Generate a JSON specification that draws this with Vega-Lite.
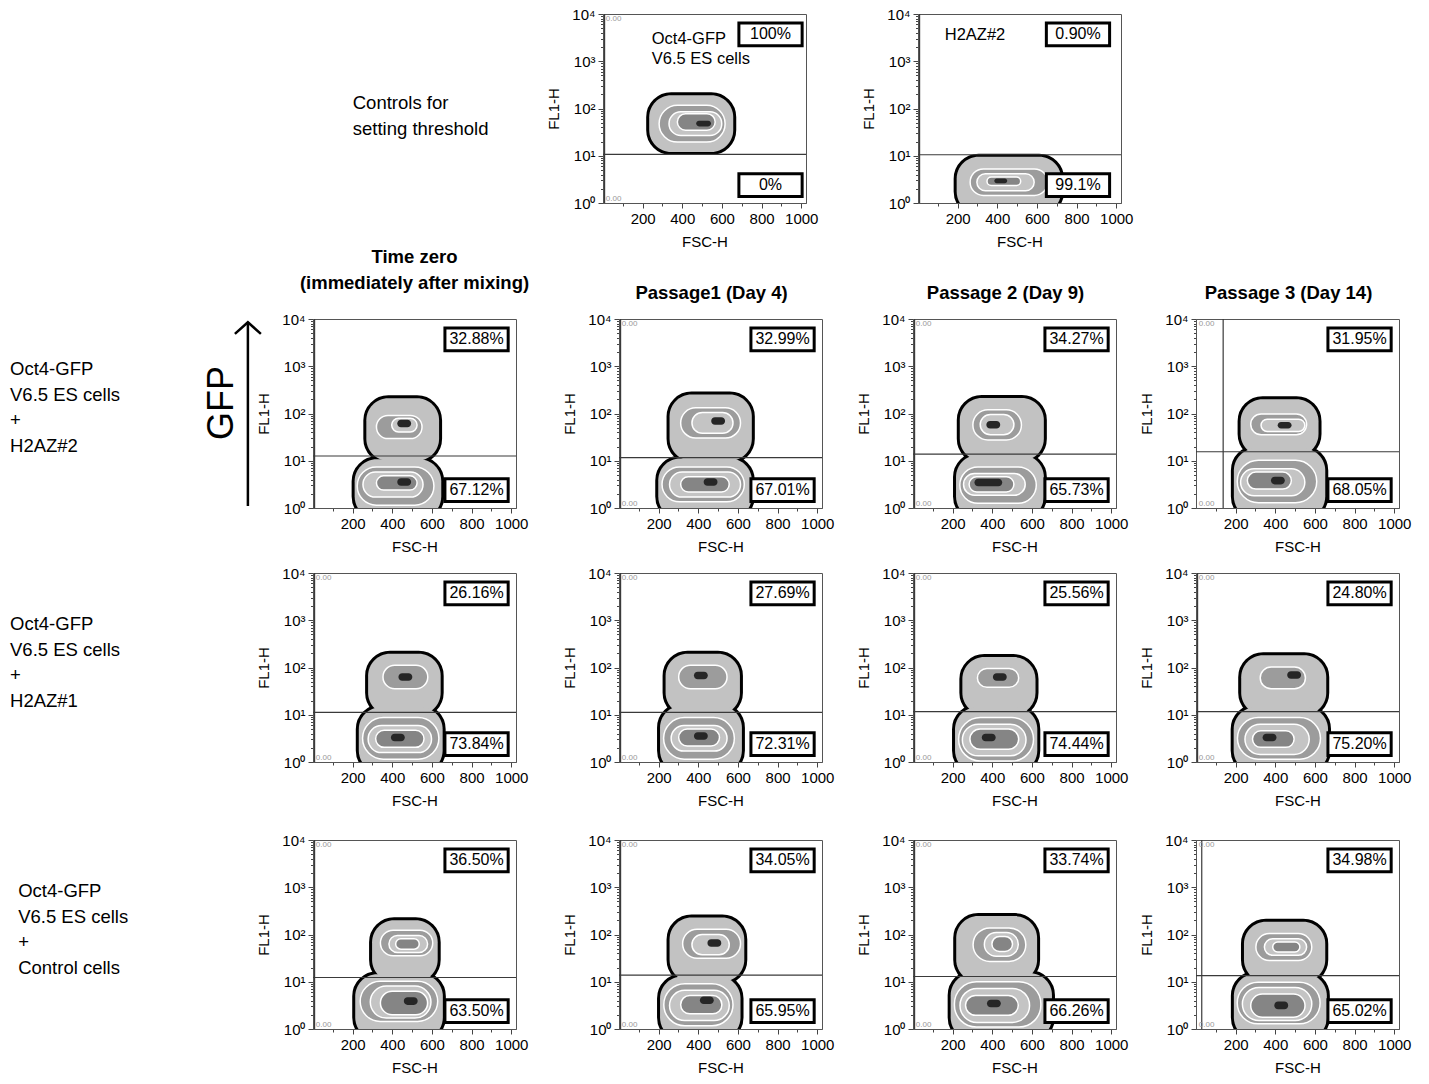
{
"$schema":"https://vega.github.io/schema/vega-lite/v6.json",
"background":"white",
"padding":{"left":0,"top":6,"right":0,"bottom":0},
"spacing":-3,
"datasets":{
"contours":[
{"panel":"c1","level":1,"fsc":233,"fsc2":657,"fl1":12.0,"fl1b":191},
{"panel":"c1","level":2,"fsc":283,"fsc2":616,"fl1":19.5,"fl1b":117},
{"panel":"c1","level":3,"fsc":333,"fsc2":599,"fl1":26.9,"fl1b":85.1},
{"panel":"c1","level":4,"fsc":375,"fsc2":566,"fl1":34.7,"fl1b":77.6},
{"panel":"c1","level":5,"fsc":470,"fsc2":545,"fl1":41.7,"fl1b":55.0},
{"panel":"c2","level":1,"fsc":195,"fsc2":722,"fl1":0.6,"fl1b":9.55},
{"panel":"c2","level":2,"fsc":263,"fsc2":654,"fl1":1.45,"fl1b":5.25},
{"panel":"c2","level":3,"fsc":297,"fsc2":586,"fl1":1.82,"fl1b":4.17},
{"panel":"c2","level":4,"fsc":348,"fsc2":518,"fl1":2.34,"fl1b":3.55},
{"panel":"c2","level":5,"fsc":385,"fsc2":450,"fl1":2.63,"fl1b":3.31},
{"panel":"r1c1","level":1,"fsc":269,"fsc2":636,"fl1":10,"fl1b":209},
{"panel":"r1c1","level":1,"fsc":210,"fsc2":647,"fl1":0.6,"fl1b":10.7},
{"panel":"r1c1","level":2,"fsc":320,"fsc2":550,"fl1":29.5,"fl1b":91.2},
{"panel":"r1c1","level":2,"fsc":223,"fsc2":610,"fl1":1.15,"fl1b":7.41},
{"panel":"r1c1","level":3,"fsc":397,"fsc2":525,"fl1":40.7,"fl1b":79.4},
{"panel":"r1c1","level":3,"fsc":252,"fsc2":555,"fl1":1.70,"fl1b":5.75},
{"panel":"r1c1","level":4,"fsc":320,"fsc2":525,"fl1":2.40,"fl1b":4.79},
{"panel":"r1c1","level":5,"fsc":425,"fsc2":495,"fl1":51.3,"fl1b":74.1},
{"panel":"r1c1","level":5,"fsc":425,"fsc2":495,"fl1":2.95,"fl1b":4.27},
{"panel":"r1c2","level":1,"fsc":255,"fsc2":670,"fl1":10,"fl1b":251},
{"panel":"r1c2","level":1,"fsc":198,"fsc2":670,"fl1":0.6,"fl1b":11.2},
{"panel":"r1c2","level":2,"fsc":311,"fsc2":613,"fl1":30.2,"fl1b":132},
{"panel":"r1c2","level":2,"fsc":217,"fsc2":632,"fl1":1.35,"fl1b":7.41},
{"panel":"r1c2","level":3,"fsc":368,"fsc2":575,"fl1":38.0,"fl1b":105},
{"panel":"r1c2","level":3,"fsc":255,"fsc2":613,"fl1":1.70,"fl1b":5.75},
{"panel":"r1c2","level":4,"fsc":311,"fsc2":556,"fl1":2.19,"fl1b":4.57},
{"panel":"r1c2","level":5,"fsc":465,"fsc2":535,"fl1":57.5,"fl1b":83.2},
{"panel":"r1c2","level":5,"fsc":427,"fsc2":497,"fl1":2.95,"fl1b":4.27},
{"panel":"r1c3","level":1,"fsc":236,"fsc2":660,"fl1":10,"fl1b":214},
{"panel":"r1c3","level":1,"fsc":217,"fsc2":660,"fl1":0.6,"fl1b":13.2},
{"panel":"r1c3","level":2,"fsc":302,"fsc2":547,"fl1":27.5,"fl1b":120},
{"panel":"r1c3","level":2,"fsc":236,"fsc2":622,"fl1":1.26,"fl1b":7.41},
{"panel":"r1c3","level":3,"fsc":339,"fsc2":509,"fl1":35.5,"fl1b":95.5},
{"panel":"r1c3","level":3,"fsc":255,"fsc2":566,"fl1":1.86,"fl1b":5.37},
{"panel":"r1c3","level":4,"fsc":283,"fsc2":509,"fl1":2.19,"fl1b":4.57},
{"panel":"r1c3","level":5,"fsc":370,"fsc2":440,"fl1":47.9,"fl1b":69.2},
{"panel":"r1c3","level":5,"fsc":310,"fsc2":450,"fl1":2.88,"fl1b":4.17},
{"panel":"r1c4","level":1,"fsc":225,"fsc2":618,"fl1":12.6,"fl1b":200},
{"panel":"r1c4","level":1,"fsc":191,"fsc2":652,"fl1":0.6,"fl1b":18.2},
{"panel":"r1c4","level":2,"fsc":276,"fsc2":558,"fl1":35.5,"fl1b":97.7},
{"panel":"r1c4","level":2,"fsc":208,"fsc2":609,"fl1":1.29,"fl1b":10.2},
{"panel":"r1c4","level":3,"fsc":328,"fsc2":549,"fl1":41.7,"fl1b":75.9},
{"panel":"r1c4","level":3,"fsc":225,"fsc2":549,"fl1":1.82,"fl1b":6.76},
{"panel":"r1c4","level":4,"fsc":259,"fsc2":481,"fl1":2.51,"fl1b":5.75},
{"panel":"r1c4","level":5,"fsc":412,"fsc2":482,"fl1":47.9,"fl1b":66.1},
{"panel":"r1c4","level":5,"fsc":378,"fsc2":448,"fl1":3.16,"fl1b":4.57},
{"panel":"r2c1","level":1,"fsc":278,"fsc2":644,"fl1":10,"fl1b":195},
{"panel":"r2c1","level":1,"fsc":231,"fsc2":654,"fl1":0.6,"fl1b":14.5},
{"panel":"r2c1","level":2,"fsc":353,"fsc2":579,"fl1":35.5,"fl1b":112},
{"panel":"r2c1","level":2,"fsc":250,"fsc2":635,"fl1":1.15,"fl1b":8.71},
{"panel":"r2c1","level":3,"fsc":278,"fsc2":598,"fl1":1.58,"fl1b":5.89},
{"panel":"r2c1","level":4,"fsc":316,"fsc2":560,"fl1":2.04,"fl1b":4.68},
{"panel":"r2c1","level":5,"fsc":431,"fsc2":501,"fl1":52.5,"fl1b":75.9},
{"panel":"r2c1","level":5,"fsc":393,"fsc2":463,"fl1":2.75,"fl1b":3.98},
{"panel":"r2c2","level":1,"fsc":235,"fsc2":610,"fl1":10,"fl1b":195},
{"panel":"r2c2","level":1,"fsc":207,"fsc2":620,"fl1":0.6,"fl1b":15.5},
{"panel":"r2c2","level":2,"fsc":301,"fsc2":545,"fl1":35.5,"fl1b":112},
{"panel":"r2c2","level":2,"fsc":225,"fsc2":582,"fl1":1.15,"fl1b":8.71},
{"panel":"r2c2","level":3,"fsc":263,"fsc2":545,"fl1":1.70,"fl1b":5.89},
{"panel":"r2c2","level":4,"fsc":301,"fsc2":507,"fl1":2.19,"fl1b":5.01},
{"panel":"r2c2","level":5,"fsc":378,"fsc2":448,"fl1":56.2,"fl1b":81.3},
{"panel":"r2c2","level":5,"fsc":378,"fsc2":448,"fl1":2.95,"fl1b":4.27},
{"panel":"r2c3","level":1,"fsc":249,"fsc2":618,"fl1":10,"fl1b":166},
{"panel":"r2c3","level":1,"fsc":212,"fsc2":627,"fl1":0.6,"fl1b":14.5},
{"panel":"r2c3","level":2,"fsc":325,"fsc2":533,"fl1":38.0,"fl1b":95.5},
{"panel":"r2c3","level":2,"fsc":230,"fsc2":608,"fl1":1.05,"fl1b":8.71},
{"panel":"r2c3","level":3,"fsc":249,"fsc2":570,"fl1":1.35,"fl1b":6.31},
{"panel":"r2c3","level":4,"fsc":287,"fsc2":533,"fl1":1.86,"fl1b":5.01},
{"panel":"r2c3","level":5,"fsc":403,"fsc2":473,"fl1":52.5,"fl1b":75.9},
{"panel":"r2c3","level":5,"fsc":347,"fsc2":417,"fl1":2.75,"fl1b":3.98},
{"panel":"r2c4","level":1,"fsc":228,"fsc2":657,"fl1":10,"fl1b":182},
{"panel":"r2c4","level":1,"fsc":190,"fsc2":666,"fl1":0.6,"fl1b":14.5},
{"panel":"r2c4","level":2,"fsc":324,"fsc2":552,"fl1":35.5,"fl1b":102},
{"panel":"r2c4","level":2,"fsc":209,"fsc2":628,"fl1":1.15,"fl1b":8.71},
{"panel":"r2c4","level":3,"fsc":247,"fsc2":571,"fl1":1.45,"fl1b":6.31},
{"panel":"r2c4","level":4,"fsc":285,"fsc2":495,"fl1":2.04,"fl1b":4.57},
{"panel":"r2c4","level":5,"fsc":460,"fsc2":530,"fl1":57.5,"fl1b":83.2},
{"panel":"r2c4","level":5,"fsc":336,"fsc2":406,"fl1":2.75,"fl1b":3.98},
{"panel":"r3c1","level":1,"fsc":298,"fsc2":629,"fl1":10,"fl1b":200},
{"panel":"r3c1","level":1,"fsc":213,"fsc2":655,"fl1":0.6,"fl1b":14.5},
{"panel":"r3c1","level":2,"fsc":340,"fsc2":604,"fl1":35.5,"fl1b":123},
{"panel":"r3c1","level":2,"fsc":238,"fsc2":629,"fl1":1.45,"fl1b":10.2},
{"panel":"r3c1","level":3,"fsc":383,"fsc2":578,"fl1":41.7,"fl1b":95.5},
{"panel":"r3c1","level":3,"fsc":289,"fsc2":595,"fl1":1.70,"fl1b":8.13},
{"panel":"r3c1","level":4,"fsc":417,"fsc2":536,"fl1":49.0,"fl1b":81.3},
{"panel":"r3c1","level":4,"fsc":340,"fsc2":578,"fl1":2.0,"fl1b":6.31},
{"panel":"r3c1","level":5,"fsc":458,"fsc2":528,"fl1":3.24,"fl1b":4.68},
{"panel":"r3c2","level":1,"fsc":255,"fsc2":632,"fl1":10,"fl1b":229},
{"panel":"r3c2","level":1,"fsc":207,"fsc2":613,"fl1":0.6,"fl1b":12.9},
{"panel":"r3c2","level":2,"fsc":321,"fsc2":613,"fl1":31.6,"fl1b":129},
{"panel":"r3c2","level":2,"fsc":226,"fsc2":575,"fl1":1.17,"fl1b":9.12},
{"panel":"r3c2","level":3,"fsc":368,"fsc2":556,"fl1":37.2,"fl1b":100},
{"panel":"r3c2","level":3,"fsc":255,"fsc2":556,"fl1":1.51,"fl1b":6.61},
{"panel":"r3c2","level":4,"fsc":311,"fsc2":519,"fl1":2.09,"fl1b":5.13},
{"panel":"r3c2","level":5,"fsc":446,"fsc2":516,"fl1":55.0,"fl1b":79.4},
{"panel":"r3c2","level":5,"fsc":408,"fsc2":478,"fl1":3.39,"fl1b":4.90},
{"panel":"r3c3","level":1,"fsc":218,"fsc2":626,"fl1":10,"fl1b":245},
{"panel":"r3c3","level":1,"fsc":190,"fsc2":701,"fl1":0.6,"fl1b":15.1},
{"panel":"r3c3","level":2,"fsc":303,"fsc2":569,"fl1":26.9,"fl1b":138},
{"panel":"r3c3","level":2,"fsc":209,"fsc2":645,"fl1":1.10,"fl1b":10},
{"panel":"r3c3","level":3,"fsc":360,"fsc2":531,"fl1":34.7,"fl1b":110},
{"panel":"r3c3","level":3,"fsc":237,"fsc2":588,"fl1":1.38,"fl1b":7.24},
{"panel":"r3c3","level":4,"fsc":398,"fsc2":502,"fl1":43.7,"fl1b":91.2},
{"panel":"r3c3","level":4,"fsc":265,"fsc2":531,"fl1":1.95,"fl1b":5.13},
{"panel":"r3c3","level":5,"fsc":373,"fsc2":443,"fl1":2.88,"fl1b":4.17},
{"panel":"r3c4","level":1,"fsc":242,"fsc2":652,"fl1":10,"fl1b":186},
{"panel":"r3c4","level":1,"fsc":191,"fsc2":660,"fl1":0.6,"fl1b":14.8},
{"panel":"r3c4","level":2,"fsc":302,"fsc2":584,"fl1":28.2,"fl1b":105},
{"panel":"r3c4","level":2,"fsc":208,"fsc2":626,"fl1":1.29,"fl1b":9.77},
{"panel":"r3c4","level":3,"fsc":345,"fsc2":558,"fl1":36.3,"fl1b":81.3},
{"panel":"r3c4","level":3,"fsc":234,"fsc2":584,"fl1":1.51,"fl1b":7.59},
{"panel":"r3c4","level":4,"fsc":387,"fsc2":524,"fl1":42.7,"fl1b":69.2},
{"panel":"r3c4","level":4,"fsc":276,"fsc2":550,"fl1":1.78,"fl1b":5.50},
{"panel":"r3c4","level":5,"fsc":395,"fsc2":465,"fl1":2.63,"fl1b":3.80}
],
"gates":[
{"panel":"c1","fsc":0,"fsc2":1024,"fl1":10.7,"fl1b":10.7},{"panel":"c1","fsc":8,"fsc2":8,"fl1":1,"fl1b":10000},
{"panel":"c2","fsc":0,"fsc2":1024,"fl1":10.5,"fl1b":10.5},{"panel":"c2","fsc":8,"fsc2":8,"fl1":1,"fl1b":10000},
{"panel":"r1c1","fsc":0,"fsc2":1024,"fl1":12.6,"fl1b":12.6},{"panel":"r1c1","fsc":8,"fsc2":8,"fl1":1,"fl1b":10000},
{"panel":"r1c2","fsc":0,"fsc2":1024,"fl1":11.7,"fl1b":11.7},{"panel":"r1c2","fsc":8,"fsc2":8,"fl1":1,"fl1b":10000},
{"panel":"r1c3","fsc":0,"fsc2":1024,"fl1":13.8,"fl1b":13.8},{"panel":"r1c3","fsc":8,"fsc2":8,"fl1":1,"fl1b":10000},
{"panel":"r1c4","fsc":0,"fsc2":1024,"fl1":15.5,"fl1b":15.5},{"panel":"r1c4","fsc":137,"fsc2":137,"fl1":1,"fl1b":10000},
{"panel":"r2c1","fsc":0,"fsc2":1024,"fl1":11.2,"fl1b":11.2},{"panel":"r2c1","fsc":8,"fsc2":8,"fl1":1,"fl1b":10000},
{"panel":"r2c2","fsc":0,"fsc2":1024,"fl1":11.2,"fl1b":11.2},{"panel":"r2c2","fsc":8,"fsc2":8,"fl1":1,"fl1b":10000},
{"panel":"r2c3","fsc":0,"fsc2":1024,"fl1":11.7,"fl1b":11.7},{"panel":"r2c3","fsc":8,"fsc2":8,"fl1":1,"fl1b":10000},
{"panel":"r2c4","fsc":0,"fsc2":1024,"fl1":11.7,"fl1b":11.7},{"panel":"r2c4","fsc":8,"fsc2":8,"fl1":1,"fl1b":10000},
{"panel":"r3c1","fsc":0,"fsc2":1024,"fl1":12.3,"fl1b":12.3},{"panel":"r3c1","fsc":8,"fsc2":8,"fl1":1,"fl1b":10000},
{"panel":"r3c2","fsc":0,"fsc2":1024,"fl1":13.8,"fl1b":13.8},{"panel":"r3c2","fsc":8,"fsc2":8,"fl1":1,"fl1b":10000},
{"panel":"r3c3","fsc":0,"fsc2":1024,"fl1":12.9,"fl1b":12.9},{"panel":"r3c3","fsc":8,"fsc2":8,"fl1":1,"fl1b":10000},
{"panel":"r3c4","fsc":0,"fsc2":1024,"fl1":13.5,"fl1b":13.5},{"panel":"r3c4","fsc":29,"fsc2":29,"fl1":1,"fl1b":10000}
],
"stats":[
{"panel":"c1","fsc":845,"fl1":3700,"label":"100%"},{"panel":"c1","fsc":845,"fl1":2.4,"label":"0%"},
{"panel":"c2","fsc":807,"fl1":3700,"label":"0.90%"},{"panel":"c2","fsc":807,"fl1":2.4,"label":"99.1%"},
{"panel":"r1c1","fsc":825,"fl1":3700,"label":"32.88%"},{"panel":"r1c1","fsc":825,"fl1":2.4,"label":"67.12%"},
{"panel":"r1c2","fsc":825,"fl1":3700,"label":"32.99%"},{"panel":"r1c2","fsc":825,"fl1":2.4,"label":"67.01%"},
{"panel":"r1c3","fsc":825,"fl1":3700,"label":"34.27%"},{"panel":"r1c3","fsc":825,"fl1":2.4,"label":"65.73%"},
{"panel":"r1c4","fsc":825,"fl1":3700,"label":"31.95%"},{"panel":"r1c4","fsc":825,"fl1":2.4,"label":"68.05%"},
{"panel":"r2c1","fsc":825,"fl1":3700,"label":"26.16%"},{"panel":"r2c1","fsc":825,"fl1":2.4,"label":"73.84%"},
{"panel":"r2c2","fsc":825,"fl1":3700,"label":"27.69%"},{"panel":"r2c2","fsc":825,"fl1":2.4,"label":"72.31%"},
{"panel":"r2c3","fsc":825,"fl1":3700,"label":"25.56%"},{"panel":"r2c3","fsc":825,"fl1":2.4,"label":"74.44%"},
{"panel":"r2c4","fsc":825,"fl1":3700,"label":"24.80%"},{"panel":"r2c4","fsc":825,"fl1":2.4,"label":"75.20%"},
{"panel":"r3c1","fsc":825,"fl1":3700,"label":"36.50%"},{"panel":"r3c1","fsc":825,"fl1":2.4,"label":"63.50%"},
{"panel":"r3c2","fsc":825,"fl1":3700,"label":"34.05%"},{"panel":"r3c2","fsc":825,"fl1":2.4,"label":"65.95%"},
{"panel":"r3c3","fsc":825,"fl1":3700,"label":"33.74%"},{"panel":"r3c3","fsc":825,"fl1":2.4,"label":"66.26%"},
{"panel":"r3c4","fsc":825,"fl1":3700,"label":"34.98%"},{"panel":"r3c4","fsc":825,"fl1":2.4,"label":"65.02%"}
],
"notes":[
{"panel":"c1","kind":"note","fsc":246,"fl1":2950,"label":"Oct4-GFP\nV6.5 ES cells"},
{"panel":"c2","kind":"note","fsc":135,"fl1":3550,"label":"H2AZ#2"},
{"panel":"c1","kind":"corner","fsc":14,"fl1":8000,"label":"0.00"},{"panel":"c1","kind":"corner","fsc":14,"fl1":1.22,"label":"0.00"},
{"panel":"r1c2","kind":"corner","fsc":14,"fl1":8000,"label":"0.00"},{"panel":"r1c2","kind":"corner","fsc":14,"fl1":1.22,"label":"0.00"},
{"panel":"r1c3","kind":"corner","fsc":14,"fl1":8000,"label":"0.00"},{"panel":"r1c3","kind":"corner","fsc":14,"fl1":1.22,"label":"0.00"},
{"panel":"r1c4","kind":"corner","fsc":14,"fl1":8000,"label":"0.00"},{"panel":"r1c4","kind":"corner","fsc":14,"fl1":1.22,"label":"0.00"},
{"panel":"r2c1","kind":"corner","fsc":14,"fl1":8000,"label":"0.00"},{"panel":"r2c1","kind":"corner","fsc":14,"fl1":1.22,"label":"0.00"},
{"panel":"r2c2","kind":"corner","fsc":14,"fl1":8000,"label":"0.00"},{"panel":"r2c2","kind":"corner","fsc":14,"fl1":1.22,"label":"0.00"},
{"panel":"r2c3","kind":"corner","fsc":14,"fl1":8000,"label":"0.00"},{"panel":"r2c3","kind":"corner","fsc":14,"fl1":1.22,"label":"0.00"},
{"panel":"r2c4","kind":"corner","fsc":14,"fl1":8000,"label":"0.00"},{"panel":"r2c4","kind":"corner","fsc":14,"fl1":1.22,"label":"0.00"},
{"panel":"r3c1","kind":"corner","fsc":14,"fl1":8000,"label":"0.00"},{"panel":"r3c1","kind":"corner","fsc":14,"fl1":1.22,"label":"0.00"},
{"panel":"r3c2","kind":"corner","fsc":14,"fl1":8000,"label":"0.00"},{"panel":"r3c2","kind":"corner","fsc":14,"fl1":1.22,"label":"0.00"},
{"panel":"r3c3","kind":"corner","fsc":14,"fl1":8000,"label":"0.00"},{"panel":"r3c3","kind":"corner","fsc":14,"fl1":1.22,"label":"0.00"},
{"panel":"r3c4","kind":"corner","fsc":14,"fl1":8000,"label":"0.00"},{"panel":"r3c4","kind":"corner","fsc":14,"fl1":1.22,"label":"0.00"}
]
},
"vconcat":[
{"bounds":"flush","spacing":0,"hconcat":[
 {"width":603,"height":189,"data":{"values":[{"label":"Controls for\nsetting threshold"}]},"mark":{"type":"text","align":"left","baseline":"middle","fontSize":18.5,"lineHeight":25.5,"lineBreak":"\n"},"encoding":{"text":{"field":"label"},"x":{"datum":0.585,"type":"quantitative","scale":{"domain":[0,1],"nice":false,"zero":false},"axis":null},"y":{"datum":0.529,"type":"quantitative","scale":{"domain":[0,1],"nice":false,"zero":false},"axis":null}}},
 {"width":203,"height":189,"view":{"stroke":"#555"},"encoding":{"x":{"field":"fsc","type":"quantitative","scale":{"domain":[0,1024],"nice":false,"zero":false},"axis":{"title":"FSC-H","values":[100,200,300,400,500,600,700,800,900,1000],"format":"d","labelExpr":"datum.value % 200 == 0 ? datum.label : ''","tickSize":{"condition":{"test":"datum.value % 200 == 0","value":5},"value":3},"labelPadding":3,"titlePadding":8,"labelOverlap":false,"labelFlush":false}},"y":{"field":"fl1","type":"quantitative","scale":{"type":"log","domain":[1,10000],"nice":false},"axis":{"title":"FL1-H","values":[1,2,3,4,5,6,7,8,9,10,20,30,40,50,60,70,80,90,100,200,300,400,500,600,700,800,900,1000,2000,3000,4000,5000,6000,7000,8000,9000,10000],"labelExpr":"datum.value == 1 ? '10⁰' : datum.value == 10 ? '10¹' : datum.value == 100 ? '10²' : datum.value == 1000 ? '10³' : datum.value == 10000 ? '10⁴' : ''","tickSize":{"condition":{"test":"indexof([1,10,100,1000,10000], datum.value) >= 0","value":5},"value":2.5},"labelPadding":3,"titlePadding":10,"labelOverlap":false,"labelFlush":false}}},"layer":[
  {"data":{"name":"contours"},"transform":[{"filter":"datum.panel == 'c1' && datum.level == 1"}],"mark":{"type":"rect","clip":true,"cornerRadius":22,"fill":"#000","stroke":"#000","strokeWidth":6},"encoding":{"x2":{"field":"fsc2"},"y2":{"field":"fl1b"}}},
  {"data":{"name":"contours"},"transform":[{"filter":"datum.panel == 'c1'"}],"mark":{"type":"rect","clip":true,"cornerRadius":22,"strokeWidth":1.5},"encoding":{"x2":{"field":"fsc2"},"y2":{"field":"fl1b"},"fill":{"field":"level","type":"ordinal","scale":{"domain":[1,2,3,4,5],"range":["#c2c2c2","#9c9c9c","#c4c4c4","#858585","#262626"]},"legend":null},"stroke":{"field":"level","type":"ordinal","scale":{"domain":[1,2,3,4,5],"range":["transparent","#ffffff","#ffffff","#ffffff","transparent"]},"legend":null}}},
  {"data":{"name":"gates"},"transform":[{"filter":"datum.panel == 'c1'"}],"mark":{"type":"rule","clip":true,"color":"#3a3a3a","strokeWidth":1.2},"encoding":{"x2":{"field":"fsc2"},"y2":{"field":"fl1b"}}},
  {"data":{"name":"notes"},"transform":[{"filter":"datum.panel == 'c1'"}],"mark":{"type":"text","align":"left","baseline":"middle","lineBreak":"\n","lineHeight":20},"encoding":{"text":{"field":"label"},"size":{"field":"kind","type":"nominal","scale":{"domain":["note","corner"],"range":[16.5,8]},"legend":null},"color":{"field":"kind","type":"nominal","scale":{"domain":["note","corner"],"range":["#000000","#999999"]},"legend":null}}},
  {"data":{"name":"stats"},"transform":[{"filter":"datum.panel == 'c1'"}],"mark":{"type":"point","shape":"M-1,-0.36L1,-0.36L1,0.36L-1,0.36Z","size":4000,"filled":true,"fill":"#fff","stroke":"#000","strokeWidth":3,"opacity":1}},
  {"data":{"name":"stats"},"transform":[{"filter":"datum.panel == 'c1'"}],"mark":{"type":"text","fontSize":16},"encoding":{"text":{"field":"label"}}}
 ]},
 {"width":112,"height":189,"data":{"values":[]},"mark":"point"},
 {"width":203,"height":189,"view":{"stroke":"#555"},"encoding":{"x":{"field":"fsc","type":"quantitative","scale":{"domain":[0,1024],"nice":false,"zero":false},"axis":{"title":"FSC-H","values":[100,200,300,400,500,600,700,800,900,1000],"format":"d","labelExpr":"datum.value % 200 == 0 ? datum.label : ''","tickSize":{"condition":{"test":"datum.value % 200 == 0","value":5},"value":3},"labelPadding":3,"titlePadding":8,"labelOverlap":false,"labelFlush":false}},"y":{"field":"fl1","type":"quantitative","scale":{"type":"log","domain":[1,10000],"nice":false},"axis":{"title":"FL1-H","values":[1,2,3,4,5,6,7,8,9,10,20,30,40,50,60,70,80,90,100,200,300,400,500,600,700,800,900,1000,2000,3000,4000,5000,6000,7000,8000,9000,10000],"labelExpr":"datum.value == 1 ? '10⁰' : datum.value == 10 ? '10¹' : datum.value == 100 ? '10²' : datum.value == 1000 ? '10³' : datum.value == 10000 ? '10⁴' : ''","tickSize":{"condition":{"test":"indexof([1,10,100,1000,10000], datum.value) >= 0","value":5},"value":2.5},"labelPadding":3,"titlePadding":10,"labelOverlap":false,"labelFlush":false}}},"layer":[
  {"data":{"name":"contours"},"transform":[{"filter":"datum.panel == 'c2' && datum.level == 1"}],"mark":{"type":"rect","clip":true,"cornerRadius":22,"fill":"#000","stroke":"#000","strokeWidth":6},"encoding":{"x2":{"field":"fsc2"},"y2":{"field":"fl1b"}}},
  {"data":{"name":"contours"},"transform":[{"filter":"datum.panel == 'c2'"}],"mark":{"type":"rect","clip":true,"cornerRadius":22,"strokeWidth":1.5},"encoding":{"x2":{"field":"fsc2"},"y2":{"field":"fl1b"},"fill":{"field":"level","type":"ordinal","scale":{"domain":[1,2,3,4,5],"range":["#c2c2c2","#9c9c9c","#c4c4c4","#858585","#262626"]},"legend":null},"stroke":{"field":"level","type":"ordinal","scale":{"domain":[1,2,3,4,5],"range":["transparent","#ffffff","#ffffff","#ffffff","transparent"]},"legend":null}}},
  {"data":{"name":"gates"},"transform":[{"filter":"datum.panel == 'c2'"}],"mark":{"type":"rule","clip":true,"color":"#3a3a3a","strokeWidth":1.2},"encoding":{"x2":{"field":"fsc2"},"y2":{"field":"fl1b"}}},
  {"data":{"name":"notes"},"transform":[{"filter":"datum.panel == 'c2'"}],"mark":{"type":"text","align":"left","baseline":"middle","lineBreak":"\n","lineHeight":20},"encoding":{"text":{"field":"label"},"size":{"field":"kind","type":"nominal","scale":{"domain":["note","corner"],"range":[16.5,8]},"legend":null},"color":{"field":"kind","type":"nominal","scale":{"domain":["note","corner"],"range":["#000000","#999999"]},"legend":null}}},
  {"data":{"name":"stats"},"transform":[{"filter":"datum.panel == 'c2'"}],"mark":{"type":"point","shape":"M-1,-0.36L1,-0.36L1,0.36L-1,0.36Z","size":4000,"filled":true,"fill":"#fff","stroke":"#000","strokeWidth":3,"opacity":1}},
  {"data":{"name":"stats"},"transform":[{"filter":"datum.panel == 'c2'"}],"mark":{"type":"text","fontSize":16},"encoding":{"text":{"field":"label"}}}
 ]}
]},
{"bounds":"flush","spacing":0,"columns":8,"concat":[
 {"width":313,"height":189,"layer":[
  {"data":{"values":[{"label":"Oct4-GFP\nV6.5 ES cells\n+\nH2AZ#2"}]},"mark":{"type":"text","align":"left","baseline":"middle","fontSize":18.5,"lineHeight":25.5,"lineBreak":"\n"},"encoding":{"text":{"field":"label"},"x":{"datum":0.032,"type":"quantitative","scale":{"domain":[0,1],"nice":false,"zero":false},"axis":null},"y":{"datum":0.735,"type":"quantitative","scale":{"domain":[0,1],"nice":false,"zero":false},"axis":null}}},
  {"data":{"values":[{"label":"GFP"}]},"mark":{"type":"text","angle":270,"align":"center","baseline":"middle","fontSize":36},"encoding":{"text":{"field":"label"},"x":{"datum":0.709,"type":"quantitative","scale":{"domain":[0,1],"nice":false,"zero":false},"axis":null},"y":{"datum":0.556,"type":"quantitative","scale":{"domain":[0,1],"nice":false,"zero":false},"axis":null}}},
  {"data":{"values":[{"label":"GFP"}]},"mark":{"type":"rule","color":"#000","strokeWidth":2.5},"encoding":{"x":{"datum":0.792,"type":"quantitative","scale":{"domain":[0,1],"nice":false,"zero":false},"axis":null},"y":{"datum":0.0106,"type":"quantitative","scale":{"domain":[0,1],"nice":false,"zero":false},"axis":null},"y2":{"datum":0.984}}},
  {"data":{"values":[{"label":"GFP"}]},"mark":{"type":"point","shape":"M-1,0L0,-0.9L1,0","size":676,"filled":false,"stroke":"#000","strokeWidth":2.5,"opacity":1},"encoding":{"x":{"datum":0.792,"type":"quantitative","scale":{"domain":[0,1],"nice":false,"zero":false},"axis":null},"y":{"datum":0.921,"type":"quantitative","scale":{"domain":[0,1],"nice":false,"zero":false},"axis":null}}}
 ]},
 {"width":203,"height":189,"view":{"stroke":"#555"},"title":{"text":["Time zero","(immediately after mixing)"],"offset":20,"lineHeight":26},"encoding":{"x":{"field":"fsc","type":"quantitative","scale":{"domain":[0,1024],"nice":false,"zero":false},"axis":{"title":"FSC-H","values":[100,200,300,400,500,600,700,800,900,1000],"format":"d","labelExpr":"datum.value % 200 == 0 ? datum.label : ''","tickSize":{"condition":{"test":"datum.value % 200 == 0","value":5},"value":3},"labelPadding":3,"titlePadding":8,"labelOverlap":false,"labelFlush":false}},"y":{"field":"fl1","type":"quantitative","scale":{"type":"log","domain":[1,10000],"nice":false},"axis":{"title":"FL1-H","values":[1,2,3,4,5,6,7,8,9,10,20,30,40,50,60,70,80,90,100,200,300,400,500,600,700,800,900,1000,2000,3000,4000,5000,6000,7000,8000,9000,10000],"labelExpr":"datum.value == 1 ? '10⁰' : datum.value == 10 ? '10¹' : datum.value == 100 ? '10²' : datum.value == 1000 ? '10³' : datum.value == 10000 ? '10⁴' : ''","tickSize":{"condition":{"test":"indexof([1,10,100,1000,10000], datum.value) >= 0","value":5},"value":2.5},"labelPadding":3,"titlePadding":10,"labelOverlap":false,"labelFlush":false}}},"layer":[
  {"data":{"name":"contours"},"transform":[{"filter":"datum.panel == 'r1c1' && datum.level == 1"}],"mark":{"type":"rect","clip":true,"cornerRadius":22,"fill":"#000","stroke":"#000","strokeWidth":6},"encoding":{"x2":{"field":"fsc2"},"y2":{"field":"fl1b"}}},
  {"data":{"name":"contours"},"transform":[{"filter":"datum.panel == 'r1c1'"}],"mark":{"type":"rect","clip":true,"cornerRadius":22,"strokeWidth":1.5},"encoding":{"x2":{"field":"fsc2"},"y2":{"field":"fl1b"},"fill":{"field":"level","type":"ordinal","scale":{"domain":[1,2,3,4,5],"range":["#c2c2c2","#9c9c9c","#c4c4c4","#858585","#262626"]},"legend":null},"stroke":{"field":"level","type":"ordinal","scale":{"domain":[1,2,3,4,5],"range":["transparent","#ffffff","#ffffff","#ffffff","transparent"]},"legend":null}}},
  {"data":{"name":"gates"},"transform":[{"filter":"datum.panel == 'r1c1'"}],"mark":{"type":"rule","clip":true,"color":"#3a3a3a","strokeWidth":1.2},"encoding":{"x2":{"field":"fsc2"},"y2":{"field":"fl1b"}}},
  {"data":{"name":"notes"},"transform":[{"filter":"datum.panel == 'r1c1'"}],"mark":{"type":"text","align":"left","baseline":"middle","lineBreak":"\n","lineHeight":20},"encoding":{"text":{"field":"label"},"size":{"field":"kind","type":"nominal","scale":{"domain":["note","corner"],"range":[16.5,8]},"legend":null},"color":{"field":"kind","type":"nominal","scale":{"domain":["note","corner"],"range":["#000000","#999999"]},"legend":null}}},
  {"data":{"name":"stats"},"transform":[{"filter":"datum.panel == 'r1c1'"}],"mark":{"type":"point","shape":"M-1,-0.36L1,-0.36L1,0.36L-1,0.36Z","size":4000,"filled":true,"fill":"#fff","stroke":"#000","strokeWidth":3,"opacity":1}},
  {"data":{"name":"stats"},"transform":[{"filter":"datum.panel == 'r1c1'"}],"mark":{"type":"text","fontSize":16},"encoding":{"text":{"field":"label"}}}
 ]},
 {"width":103,"height":189,"data":{"values":[]},"mark":"point"},
 {"width":203,"height":189,"view":{"stroke":"#555"},"title":{"text":"Passage1 (Day 4)","offset":10,"dx":-9},"encoding":{"x":{"field":"fsc","type":"quantitative","scale":{"domain":[0,1024],"nice":false,"zero":false},"axis":{"title":"FSC-H","values":[100,200,300,400,500,600,700,800,900,1000],"format":"d","labelExpr":"datum.value % 200 == 0 ? datum.label : ''","tickSize":{"condition":{"test":"datum.value % 200 == 0","value":5},"value":3},"labelPadding":3,"titlePadding":8,"labelOverlap":false,"labelFlush":false}},"y":{"field":"fl1","type":"quantitative","scale":{"type":"log","domain":[1,10000],"nice":false},"axis":{"title":"FL1-H","values":[1,2,3,4,5,6,7,8,9,10,20,30,40,50,60,70,80,90,100,200,300,400,500,600,700,800,900,1000,2000,3000,4000,5000,6000,7000,8000,9000,10000],"labelExpr":"datum.value == 1 ? '10⁰' : datum.value == 10 ? '10¹' : datum.value == 100 ? '10²' : datum.value == 1000 ? '10³' : datum.value == 10000 ? '10⁴' : ''","tickSize":{"condition":{"test":"indexof([1,10,100,1000,10000], datum.value) >= 0","value":5},"value":2.5},"labelPadding":3,"titlePadding":10,"labelOverlap":false,"labelFlush":false}}},"layer":[
  {"data":{"name":"contours"},"transform":[{"filter":"datum.panel == 'r1c2' && datum.level == 1"}],"mark":{"type":"rect","clip":true,"cornerRadius":22,"fill":"#000","stroke":"#000","strokeWidth":6},"encoding":{"x2":{"field":"fsc2"},"y2":{"field":"fl1b"}}},
  {"data":{"name":"contours"},"transform":[{"filter":"datum.panel == 'r1c2'"}],"mark":{"type":"rect","clip":true,"cornerRadius":22,"strokeWidth":1.5},"encoding":{"x2":{"field":"fsc2"},"y2":{"field":"fl1b"},"fill":{"field":"level","type":"ordinal","scale":{"domain":[1,2,3,4,5],"range":["#c2c2c2","#9c9c9c","#c4c4c4","#858585","#262626"]},"legend":null},"stroke":{"field":"level","type":"ordinal","scale":{"domain":[1,2,3,4,5],"range":["transparent","#ffffff","#ffffff","#ffffff","transparent"]},"legend":null}}},
  {"data":{"name":"gates"},"transform":[{"filter":"datum.panel == 'r1c2'"}],"mark":{"type":"rule","clip":true,"color":"#3a3a3a","strokeWidth":1.2},"encoding":{"x2":{"field":"fsc2"},"y2":{"field":"fl1b"}}},
  {"data":{"name":"notes"},"transform":[{"filter":"datum.panel == 'r1c2'"}],"mark":{"type":"text","align":"left","baseline":"middle","lineBreak":"\n","lineHeight":20},"encoding":{"text":{"field":"label"},"size":{"field":"kind","type":"nominal","scale":{"domain":["note","corner"],"range":[16.5,8]},"legend":null},"color":{"field":"kind","type":"nominal","scale":{"domain":["note","corner"],"range":["#000000","#999999"]},"legend":null}}},
  {"data":{"name":"stats"},"transform":[{"filter":"datum.panel == 'r1c2'"}],"mark":{"type":"point","shape":"M-1,-0.36L1,-0.36L1,0.36L-1,0.36Z","size":4000,"filled":true,"fill":"#fff","stroke":"#000","strokeWidth":3,"opacity":1}},
  {"data":{"name":"stats"},"transform":[{"filter":"datum.panel == 'r1c2'"}],"mark":{"type":"text","fontSize":16},"encoding":{"text":{"field":"label"}}}
 ]},
 {"width":91,"height":189,"data":{"values":[]},"mark":"point"},
 {"width":203,"height":189,"view":{"stroke":"#555"},"title":{"text":"Passage 2 (Day 9)","offset":10,"dx":-9},"encoding":{"x":{"field":"fsc","type":"quantitative","scale":{"domain":[0,1024],"nice":false,"zero":false},"axis":{"title":"FSC-H","values":[100,200,300,400,500,600,700,800,900,1000],"format":"d","labelExpr":"datum.value % 200 == 0 ? datum.label : ''","tickSize":{"condition":{"test":"datum.value % 200 == 0","value":5},"value":3},"labelPadding":3,"titlePadding":8,"labelOverlap":false,"labelFlush":false}},"y":{"field":"fl1","type":"quantitative","scale":{"type":"log","domain":[1,10000],"nice":false},"axis":{"title":"FL1-H","values":[1,2,3,4,5,6,7,8,9,10,20,30,40,50,60,70,80,90,100,200,300,400,500,600,700,800,900,1000,2000,3000,4000,5000,6000,7000,8000,9000,10000],"labelExpr":"datum.value == 1 ? '10⁰' : datum.value == 10 ? '10¹' : datum.value == 100 ? '10²' : datum.value == 1000 ? '10³' : datum.value == 10000 ? '10⁴' : ''","tickSize":{"condition":{"test":"indexof([1,10,100,1000,10000], datum.value) >= 0","value":5},"value":2.5},"labelPadding":3,"titlePadding":10,"labelOverlap":false,"labelFlush":false}}},"layer":[
  {"data":{"name":"contours"},"transform":[{"filter":"datum.panel == 'r1c3' && datum.level == 1"}],"mark":{"type":"rect","clip":true,"cornerRadius":22,"fill":"#000","stroke":"#000","strokeWidth":6},"encoding":{"x2":{"field":"fsc2"},"y2":{"field":"fl1b"}}},
  {"data":{"name":"contours"},"transform":[{"filter":"datum.panel == 'r1c3'"}],"mark":{"type":"rect","clip":true,"cornerRadius":22,"strokeWidth":1.5},"encoding":{"x2":{"field":"fsc2"},"y2":{"field":"fl1b"},"fill":{"field":"level","type":"ordinal","scale":{"domain":[1,2,3,4,5],"range":["#c2c2c2","#9c9c9c","#c4c4c4","#858585","#262626"]},"legend":null},"stroke":{"field":"level","type":"ordinal","scale":{"domain":[1,2,3,4,5],"range":["transparent","#ffffff","#ffffff","#ffffff","transparent"]},"legend":null}}},
  {"data":{"name":"gates"},"transform":[{"filter":"datum.panel == 'r1c3'"}],"mark":{"type":"rule","clip":true,"color":"#3a3a3a","strokeWidth":1.2},"encoding":{"x2":{"field":"fsc2"},"y2":{"field":"fl1b"}}},
  {"data":{"name":"notes"},"transform":[{"filter":"datum.panel == 'r1c3'"}],"mark":{"type":"text","align":"left","baseline":"middle","lineBreak":"\n","lineHeight":20},"encoding":{"text":{"field":"label"},"size":{"field":"kind","type":"nominal","scale":{"domain":["note","corner"],"range":[16.5,8]},"legend":null},"color":{"field":"kind","type":"nominal","scale":{"domain":["note","corner"],"range":["#000000","#999999"]},"legend":null}}},
  {"data":{"name":"stats"},"transform":[{"filter":"datum.panel == 'r1c3'"}],"mark":{"type":"point","shape":"M-1,-0.36L1,-0.36L1,0.36L-1,0.36Z","size":4000,"filled":true,"fill":"#fff","stroke":"#000","strokeWidth":3,"opacity":1}},
  {"data":{"name":"stats"},"transform":[{"filter":"datum.panel == 'r1c3'"}],"mark":{"type":"text","fontSize":16},"encoding":{"text":{"field":"label"}}}
 ]},
 {"width":80,"height":189,"data":{"values":[]},"mark":"point"},
 {"width":203,"height":189,"view":{"stroke":"#555"},"title":{"text":"Passage 3 (Day 14)","offset":10,"dx":-9},"encoding":{"x":{"field":"fsc","type":"quantitative","scale":{"domain":[0,1024],"nice":false,"zero":false},"axis":{"title":"FSC-H","values":[100,200,300,400,500,600,700,800,900,1000],"format":"d","labelExpr":"datum.value % 200 == 0 ? datum.label : ''","tickSize":{"condition":{"test":"datum.value % 200 == 0","value":5},"value":3},"labelPadding":3,"titlePadding":8,"labelOverlap":false,"labelFlush":false}},"y":{"field":"fl1","type":"quantitative","scale":{"type":"log","domain":[1,10000],"nice":false},"axis":{"title":"FL1-H","values":[1,2,3,4,5,6,7,8,9,10,20,30,40,50,60,70,80,90,100,200,300,400,500,600,700,800,900,1000,2000,3000,4000,5000,6000,7000,8000,9000,10000],"labelExpr":"datum.value == 1 ? '10⁰' : datum.value == 10 ? '10¹' : datum.value == 100 ? '10²' : datum.value == 1000 ? '10³' : datum.value == 10000 ? '10⁴' : ''","tickSize":{"condition":{"test":"indexof([1,10,100,1000,10000], datum.value) >= 0","value":5},"value":2.5},"labelPadding":3,"titlePadding":10,"labelOverlap":false,"labelFlush":false}}},"layer":[
  {"data":{"name":"contours"},"transform":[{"filter":"datum.panel == 'r1c4' && datum.level == 1"}],"mark":{"type":"rect","clip":true,"cornerRadius":22,"fill":"#000","stroke":"#000","strokeWidth":6},"encoding":{"x2":{"field":"fsc2"},"y2":{"field":"fl1b"}}},
  {"data":{"name":"contours"},"transform":[{"filter":"datum.panel == 'r1c4'"}],"mark":{"type":"rect","clip":true,"cornerRadius":22,"strokeWidth":1.5},"encoding":{"x2":{"field":"fsc2"},"y2":{"field":"fl1b"},"fill":{"field":"level","type":"ordinal","scale":{"domain":[1,2,3,4,5],"range":["#c2c2c2","#9c9c9c","#c4c4c4","#858585","#262626"]},"legend":null},"stroke":{"field":"level","type":"ordinal","scale":{"domain":[1,2,3,4,5],"range":["transparent","#ffffff","#ffffff","#ffffff","transparent"]},"legend":null}}},
  {"data":{"name":"gates"},"transform":[{"filter":"datum.panel == 'r1c4'"}],"mark":{"type":"rule","clip":true,"color":"#3a3a3a","strokeWidth":1.2},"encoding":{"x2":{"field":"fsc2"},"y2":{"field":"fl1b"}}},
  {"data":{"name":"notes"},"transform":[{"filter":"datum.panel == 'r1c4'"}],"mark":{"type":"text","align":"left","baseline":"middle","lineBreak":"\n","lineHeight":20},"encoding":{"text":{"field":"label"},"size":{"field":"kind","type":"nominal","scale":{"domain":["note","corner"],"range":[16.5,8]},"legend":null},"color":{"field":"kind","type":"nominal","scale":{"domain":["note","corner"],"range":["#000000","#999999"]},"legend":null}}},
  {"data":{"name":"stats"},"transform":[{"filter":"datum.panel == 'r1c4'"}],"mark":{"type":"point","shape":"M-1,-0.36L1,-0.36L1,0.36L-1,0.36Z","size":4000,"filled":true,"fill":"#fff","stroke":"#000","strokeWidth":3,"opacity":1}},
  {"data":{"name":"stats"},"transform":[{"filter":"datum.panel == 'r1c4'"}],"mark":{"type":"text","fontSize":16},"encoding":{"text":{"field":"label"}}}
 ]},
 {"width":1,"height":65,"data":{"values":[]},"mark":"point"},
 {"width":1,"height":65,"data":{"values":[]},"mark":"point"},
 {"width":1,"height":65,"data":{"values":[]},"mark":"point"},
 {"width":1,"height":65,"data":{"values":[]},"mark":"point"},
 {"width":1,"height":65,"data":{"values":[]},"mark":"point"},
 {"width":1,"height":65,"data":{"values":[]},"mark":"point"},
 {"width":1,"height":65,"data":{"values":[]},"mark":"point"},
 {"width":1,"height":65,"data":{"values":[]},"mark":"point"},
 {"width":313,"height":189,"data":{"values":[{"label":"Oct4-GFP\nV6.5 ES cells\n+\nH2AZ#1"}]},"mark":{"type":"text","align":"left","baseline":"middle","fontSize":18.5,"lineHeight":25.5,"lineBreak":"\n"},"encoding":{"text":{"field":"label"},"x":{"datum":0.032,"type":"quantitative","scale":{"domain":[0,1],"nice":false,"zero":false},"axis":null},"y":{"datum":0.73,"type":"quantitative","scale":{"domain":[0,1],"nice":false,"zero":false},"axis":null}}},
 {"width":203,"height":189,"view":{"stroke":"#555"},"encoding":{"x":{"field":"fsc","type":"quantitative","scale":{"domain":[0,1024],"nice":false,"zero":false},"axis":{"title":"FSC-H","values":[100,200,300,400,500,600,700,800,900,1000],"format":"d","labelExpr":"datum.value % 200 == 0 ? datum.label : ''","tickSize":{"condition":{"test":"datum.value % 200 == 0","value":5},"value":3},"labelPadding":3,"titlePadding":8,"labelOverlap":false,"labelFlush":false}},"y":{"field":"fl1","type":"quantitative","scale":{"type":"log","domain":[1,10000],"nice":false},"axis":{"title":"FL1-H","values":[1,2,3,4,5,6,7,8,9,10,20,30,40,50,60,70,80,90,100,200,300,400,500,600,700,800,900,1000,2000,3000,4000,5000,6000,7000,8000,9000,10000],"labelExpr":"datum.value == 1 ? '10⁰' : datum.value == 10 ? '10¹' : datum.value == 100 ? '10²' : datum.value == 1000 ? '10³' : datum.value == 10000 ? '10⁴' : ''","tickSize":{"condition":{"test":"indexof([1,10,100,1000,10000], datum.value) >= 0","value":5},"value":2.5},"labelPadding":3,"titlePadding":10,"labelOverlap":false,"labelFlush":false}}},"layer":[
  {"data":{"name":"contours"},"transform":[{"filter":"datum.panel == 'r2c1' && datum.level == 1"}],"mark":{"type":"rect","clip":true,"cornerRadius":22,"fill":"#000","stroke":"#000","strokeWidth":6},"encoding":{"x2":{"field":"fsc2"},"y2":{"field":"fl1b"}}},
  {"data":{"name":"contours"},"transform":[{"filter":"datum.panel == 'r2c1'"}],"mark":{"type":"rect","clip":true,"cornerRadius":22,"strokeWidth":1.5},"encoding":{"x2":{"field":"fsc2"},"y2":{"field":"fl1b"},"fill":{"field":"level","type":"ordinal","scale":{"domain":[1,2,3,4,5],"range":["#c2c2c2","#9c9c9c","#c4c4c4","#858585","#262626"]},"legend":null},"stroke":{"field":"level","type":"ordinal","scale":{"domain":[1,2,3,4,5],"range":["transparent","#ffffff","#ffffff","#ffffff","transparent"]},"legend":null}}},
  {"data":{"name":"gates"},"transform":[{"filter":"datum.panel == 'r2c1'"}],"mark":{"type":"rule","clip":true,"color":"#3a3a3a","strokeWidth":1.2},"encoding":{"x2":{"field":"fsc2"},"y2":{"field":"fl1b"}}},
  {"data":{"name":"notes"},"transform":[{"filter":"datum.panel == 'r2c1'"}],"mark":{"type":"text","align":"left","baseline":"middle","lineBreak":"\n","lineHeight":20},"encoding":{"text":{"field":"label"},"size":{"field":"kind","type":"nominal","scale":{"domain":["note","corner"],"range":[16.5,8]},"legend":null},"color":{"field":"kind","type":"nominal","scale":{"domain":["note","corner"],"range":["#000000","#999999"]},"legend":null}}},
  {"data":{"name":"stats"},"transform":[{"filter":"datum.panel == 'r2c1'"}],"mark":{"type":"point","shape":"M-1,-0.36L1,-0.36L1,0.36L-1,0.36Z","size":4000,"filled":true,"fill":"#fff","stroke":"#000","strokeWidth":3,"opacity":1}},
  {"data":{"name":"stats"},"transform":[{"filter":"datum.panel == 'r2c1'"}],"mark":{"type":"text","fontSize":16},"encoding":{"text":{"field":"label"}}}
 ]},
 {"width":103,"height":189,"data":{"values":[]},"mark":"point"},
 {"width":203,"height":189,"view":{"stroke":"#555"},"encoding":{"x":{"field":"fsc","type":"quantitative","scale":{"domain":[0,1024],"nice":false,"zero":false},"axis":{"title":"FSC-H","values":[100,200,300,400,500,600,700,800,900,1000],"format":"d","labelExpr":"datum.value % 200 == 0 ? datum.label : ''","tickSize":{"condition":{"test":"datum.value % 200 == 0","value":5},"value":3},"labelPadding":3,"titlePadding":8,"labelOverlap":false,"labelFlush":false}},"y":{"field":"fl1","type":"quantitative","scale":{"type":"log","domain":[1,10000],"nice":false},"axis":{"title":"FL1-H","values":[1,2,3,4,5,6,7,8,9,10,20,30,40,50,60,70,80,90,100,200,300,400,500,600,700,800,900,1000,2000,3000,4000,5000,6000,7000,8000,9000,10000],"labelExpr":"datum.value == 1 ? '10⁰' : datum.value == 10 ? '10¹' : datum.value == 100 ? '10²' : datum.value == 1000 ? '10³' : datum.value == 10000 ? '10⁴' : ''","tickSize":{"condition":{"test":"indexof([1,10,100,1000,10000], datum.value) >= 0","value":5},"value":2.5},"labelPadding":3,"titlePadding":10,"labelOverlap":false,"labelFlush":false}}},"layer":[
  {"data":{"name":"contours"},"transform":[{"filter":"datum.panel == 'r2c2' && datum.level == 1"}],"mark":{"type":"rect","clip":true,"cornerRadius":22,"fill":"#000","stroke":"#000","strokeWidth":6},"encoding":{"x2":{"field":"fsc2"},"y2":{"field":"fl1b"}}},
  {"data":{"name":"contours"},"transform":[{"filter":"datum.panel == 'r2c2'"}],"mark":{"type":"rect","clip":true,"cornerRadius":22,"strokeWidth":1.5},"encoding":{"x2":{"field":"fsc2"},"y2":{"field":"fl1b"},"fill":{"field":"level","type":"ordinal","scale":{"domain":[1,2,3,4,5],"range":["#c2c2c2","#9c9c9c","#c4c4c4","#858585","#262626"]},"legend":null},"stroke":{"field":"level","type":"ordinal","scale":{"domain":[1,2,3,4,5],"range":["transparent","#ffffff","#ffffff","#ffffff","transparent"]},"legend":null}}},
  {"data":{"name":"gates"},"transform":[{"filter":"datum.panel == 'r2c2'"}],"mark":{"type":"rule","clip":true,"color":"#3a3a3a","strokeWidth":1.2},"encoding":{"x2":{"field":"fsc2"},"y2":{"field":"fl1b"}}},
  {"data":{"name":"notes"},"transform":[{"filter":"datum.panel == 'r2c2'"}],"mark":{"type":"text","align":"left","baseline":"middle","lineBreak":"\n","lineHeight":20},"encoding":{"text":{"field":"label"},"size":{"field":"kind","type":"nominal","scale":{"domain":["note","corner"],"range":[16.5,8]},"legend":null},"color":{"field":"kind","type":"nominal","scale":{"domain":["note","corner"],"range":["#000000","#999999"]},"legend":null}}},
  {"data":{"name":"stats"},"transform":[{"filter":"datum.panel == 'r2c2'"}],"mark":{"type":"point","shape":"M-1,-0.36L1,-0.36L1,0.36L-1,0.36Z","size":4000,"filled":true,"fill":"#fff","stroke":"#000","strokeWidth":3,"opacity":1}},
  {"data":{"name":"stats"},"transform":[{"filter":"datum.panel == 'r2c2'"}],"mark":{"type":"text","fontSize":16},"encoding":{"text":{"field":"label"}}}
 ]},
 {"width":91,"height":189,"data":{"values":[]},"mark":"point"},
 {"width":203,"height":189,"view":{"stroke":"#555"},"encoding":{"x":{"field":"fsc","type":"quantitative","scale":{"domain":[0,1024],"nice":false,"zero":false},"axis":{"title":"FSC-H","values":[100,200,300,400,500,600,700,800,900,1000],"format":"d","labelExpr":"datum.value % 200 == 0 ? datum.label : ''","tickSize":{"condition":{"test":"datum.value % 200 == 0","value":5},"value":3},"labelPadding":3,"titlePadding":8,"labelOverlap":false,"labelFlush":false}},"y":{"field":"fl1","type":"quantitative","scale":{"type":"log","domain":[1,10000],"nice":false},"axis":{"title":"FL1-H","values":[1,2,3,4,5,6,7,8,9,10,20,30,40,50,60,70,80,90,100,200,300,400,500,600,700,800,900,1000,2000,3000,4000,5000,6000,7000,8000,9000,10000],"labelExpr":"datum.value == 1 ? '10⁰' : datum.value == 10 ? '10¹' : datum.value == 100 ? '10²' : datum.value == 1000 ? '10³' : datum.value == 10000 ? '10⁴' : ''","tickSize":{"condition":{"test":"indexof([1,10,100,1000,10000], datum.value) >= 0","value":5},"value":2.5},"labelPadding":3,"titlePadding":10,"labelOverlap":false,"labelFlush":false}}},"layer":[
  {"data":{"name":"contours"},"transform":[{"filter":"datum.panel == 'r2c3' && datum.level == 1"}],"mark":{"type":"rect","clip":true,"cornerRadius":22,"fill":"#000","stroke":"#000","strokeWidth":6},"encoding":{"x2":{"field":"fsc2"},"y2":{"field":"fl1b"}}},
  {"data":{"name":"contours"},"transform":[{"filter":"datum.panel == 'r2c3'"}],"mark":{"type":"rect","clip":true,"cornerRadius":22,"strokeWidth":1.5},"encoding":{"x2":{"field":"fsc2"},"y2":{"field":"fl1b"},"fill":{"field":"level","type":"ordinal","scale":{"domain":[1,2,3,4,5],"range":["#c2c2c2","#9c9c9c","#c4c4c4","#858585","#262626"]},"legend":null},"stroke":{"field":"level","type":"ordinal","scale":{"domain":[1,2,3,4,5],"range":["transparent","#ffffff","#ffffff","#ffffff","transparent"]},"legend":null}}},
  {"data":{"name":"gates"},"transform":[{"filter":"datum.panel == 'r2c3'"}],"mark":{"type":"rule","clip":true,"color":"#3a3a3a","strokeWidth":1.2},"encoding":{"x2":{"field":"fsc2"},"y2":{"field":"fl1b"}}},
  {"data":{"name":"notes"},"transform":[{"filter":"datum.panel == 'r2c3'"}],"mark":{"type":"text","align":"left","baseline":"middle","lineBreak":"\n","lineHeight":20},"encoding":{"text":{"field":"label"},"size":{"field":"kind","type":"nominal","scale":{"domain":["note","corner"],"range":[16.5,8]},"legend":null},"color":{"field":"kind","type":"nominal","scale":{"domain":["note","corner"],"range":["#000000","#999999"]},"legend":null}}},
  {"data":{"name":"stats"},"transform":[{"filter":"datum.panel == 'r2c3'"}],"mark":{"type":"point","shape":"M-1,-0.36L1,-0.36L1,0.36L-1,0.36Z","size":4000,"filled":true,"fill":"#fff","stroke":"#000","strokeWidth":3,"opacity":1}},
  {"data":{"name":"stats"},"transform":[{"filter":"datum.panel == 'r2c3'"}],"mark":{"type":"text","fontSize":16},"encoding":{"text":{"field":"label"}}}
 ]},
 {"width":80,"height":189,"data":{"values":[]},"mark":"point"},
 {"width":203,"height":189,"view":{"stroke":"#555"},"encoding":{"x":{"field":"fsc","type":"quantitative","scale":{"domain":[0,1024],"nice":false,"zero":false},"axis":{"title":"FSC-H","values":[100,200,300,400,500,600,700,800,900,1000],"format":"d","labelExpr":"datum.value % 200 == 0 ? datum.label : ''","tickSize":{"condition":{"test":"datum.value % 200 == 0","value":5},"value":3},"labelPadding":3,"titlePadding":8,"labelOverlap":false,"labelFlush":false}},"y":{"field":"fl1","type":"quantitative","scale":{"type":"log","domain":[1,10000],"nice":false},"axis":{"title":"FL1-H","values":[1,2,3,4,5,6,7,8,9,10,20,30,40,50,60,70,80,90,100,200,300,400,500,600,700,800,900,1000,2000,3000,4000,5000,6000,7000,8000,9000,10000],"labelExpr":"datum.value == 1 ? '10⁰' : datum.value == 10 ? '10¹' : datum.value == 100 ? '10²' : datum.value == 1000 ? '10³' : datum.value == 10000 ? '10⁴' : ''","tickSize":{"condition":{"test":"indexof([1,10,100,1000,10000], datum.value) >= 0","value":5},"value":2.5},"labelPadding":3,"titlePadding":10,"labelOverlap":false,"labelFlush":false}}},"layer":[
  {"data":{"name":"contours"},"transform":[{"filter":"datum.panel == 'r2c4' && datum.level == 1"}],"mark":{"type":"rect","clip":true,"cornerRadius":22,"fill":"#000","stroke":"#000","strokeWidth":6},"encoding":{"x2":{"field":"fsc2"},"y2":{"field":"fl1b"}}},
  {"data":{"name":"contours"},"transform":[{"filter":"datum.panel == 'r2c4'"}],"mark":{"type":"rect","clip":true,"cornerRadius":22,"strokeWidth":1.5},"encoding":{"x2":{"field":"fsc2"},"y2":{"field":"fl1b"},"fill":{"field":"level","type":"ordinal","scale":{"domain":[1,2,3,4,5],"range":["#c2c2c2","#9c9c9c","#c4c4c4","#858585","#262626"]},"legend":null},"stroke":{"field":"level","type":"ordinal","scale":{"domain":[1,2,3,4,5],"range":["transparent","#ffffff","#ffffff","#ffffff","transparent"]},"legend":null}}},
  {"data":{"name":"gates"},"transform":[{"filter":"datum.panel == 'r2c4'"}],"mark":{"type":"rule","clip":true,"color":"#3a3a3a","strokeWidth":1.2},"encoding":{"x2":{"field":"fsc2"},"y2":{"field":"fl1b"}}},
  {"data":{"name":"notes"},"transform":[{"filter":"datum.panel == 'r2c4'"}],"mark":{"type":"text","align":"left","baseline":"middle","lineBreak":"\n","lineHeight":20},"encoding":{"text":{"field":"label"},"size":{"field":"kind","type":"nominal","scale":{"domain":["note","corner"],"range":[16.5,8]},"legend":null},"color":{"field":"kind","type":"nominal","scale":{"domain":["note","corner"],"range":["#000000","#999999"]},"legend":null}}},
  {"data":{"name":"stats"},"transform":[{"filter":"datum.panel == 'r2c4'"}],"mark":{"type":"point","shape":"M-1,-0.36L1,-0.36L1,0.36L-1,0.36Z","size":4000,"filled":true,"fill":"#fff","stroke":"#000","strokeWidth":3,"opacity":1}},
  {"data":{"name":"stats"},"transform":[{"filter":"datum.panel == 'r2c4'"}],"mark":{"type":"text","fontSize":16},"encoding":{"text":{"field":"label"}}}
 ]},
 {"width":1,"height":78,"data":{"values":[]},"mark":"point"},
 {"width":1,"height":78,"data":{"values":[]},"mark":"point"},
 {"width":1,"height":78,"data":{"values":[]},"mark":"point"},
 {"width":1,"height":78,"data":{"values":[]},"mark":"point"},
 {"width":1,"height":78,"data":{"values":[]},"mark":"point"},
 {"width":1,"height":78,"data":{"values":[]},"mark":"point"},
 {"width":1,"height":78,"data":{"values":[]},"mark":"point"},
 {"width":1,"height":78,"data":{"values":[]},"mark":"point"},
 {"width":313,"height":189,"data":{"values":[{"label":"Oct4-GFP\nV6.5 ES cells\n+\nControl cells"}]},"mark":{"type":"text","align":"left","baseline":"middle","fontSize":18.5,"lineHeight":25.5,"lineBreak":"\n"},"encoding":{"text":{"field":"label"},"x":{"datum":0.058,"type":"quantitative","scale":{"domain":[0,1],"nice":false,"zero":false},"axis":null},"y":{"datum":0.73,"type":"quantitative","scale":{"domain":[0,1],"nice":false,"zero":false},"axis":null}}},
 {"width":203,"height":189,"view":{"stroke":"#555"},"encoding":{"x":{"field":"fsc","type":"quantitative","scale":{"domain":[0,1024],"nice":false,"zero":false},"axis":{"title":"FSC-H","values":[100,200,300,400,500,600,700,800,900,1000],"format":"d","labelExpr":"datum.value % 200 == 0 ? datum.label : ''","tickSize":{"condition":{"test":"datum.value % 200 == 0","value":5},"value":3},"labelPadding":3,"titlePadding":8,"labelOverlap":false,"labelFlush":false}},"y":{"field":"fl1","type":"quantitative","scale":{"type":"log","domain":[1,10000],"nice":false},"axis":{"title":"FL1-H","values":[1,2,3,4,5,6,7,8,9,10,20,30,40,50,60,70,80,90,100,200,300,400,500,600,700,800,900,1000,2000,3000,4000,5000,6000,7000,8000,9000,10000],"labelExpr":"datum.value == 1 ? '10⁰' : datum.value == 10 ? '10¹' : datum.value == 100 ? '10²' : datum.value == 1000 ? '10³' : datum.value == 10000 ? '10⁴' : ''","tickSize":{"condition":{"test":"indexof([1,10,100,1000,10000], datum.value) >= 0","value":5},"value":2.5},"labelPadding":3,"titlePadding":10,"labelOverlap":false,"labelFlush":false}}},"layer":[
  {"data":{"name":"contours"},"transform":[{"filter":"datum.panel == 'r3c1' && datum.level == 1"}],"mark":{"type":"rect","clip":true,"cornerRadius":22,"fill":"#000","stroke":"#000","strokeWidth":6},"encoding":{"x2":{"field":"fsc2"},"y2":{"field":"fl1b"}}},
  {"data":{"name":"contours"},"transform":[{"filter":"datum.panel == 'r3c1'"}],"mark":{"type":"rect","clip":true,"cornerRadius":22,"strokeWidth":1.5},"encoding":{"x2":{"field":"fsc2"},"y2":{"field":"fl1b"},"fill":{"field":"level","type":"ordinal","scale":{"domain":[1,2,3,4,5],"range":["#c2c2c2","#9c9c9c","#c4c4c4","#858585","#262626"]},"legend":null},"stroke":{"field":"level","type":"ordinal","scale":{"domain":[1,2,3,4,5],"range":["transparent","#ffffff","#ffffff","#ffffff","transparent"]},"legend":null}}},
  {"data":{"name":"gates"},"transform":[{"filter":"datum.panel == 'r3c1'"}],"mark":{"type":"rule","clip":true,"color":"#3a3a3a","strokeWidth":1.2},"encoding":{"x2":{"field":"fsc2"},"y2":{"field":"fl1b"}}},
  {"data":{"name":"notes"},"transform":[{"filter":"datum.panel == 'r3c1'"}],"mark":{"type":"text","align":"left","baseline":"middle","lineBreak":"\n","lineHeight":20},"encoding":{"text":{"field":"label"},"size":{"field":"kind","type":"nominal","scale":{"domain":["note","corner"],"range":[16.5,8]},"legend":null},"color":{"field":"kind","type":"nominal","scale":{"domain":["note","corner"],"range":["#000000","#999999"]},"legend":null}}},
  {"data":{"name":"stats"},"transform":[{"filter":"datum.panel == 'r3c1'"}],"mark":{"type":"point","shape":"M-1,-0.36L1,-0.36L1,0.36L-1,0.36Z","size":4000,"filled":true,"fill":"#fff","stroke":"#000","strokeWidth":3,"opacity":1}},
  {"data":{"name":"stats"},"transform":[{"filter":"datum.panel == 'r3c1'"}],"mark":{"type":"text","fontSize":16},"encoding":{"text":{"field":"label"}}}
 ]},
 {"width":103,"height":189,"data":{"values":[]},"mark":"point"},
 {"width":203,"height":189,"view":{"stroke":"#555"},"encoding":{"x":{"field":"fsc","type":"quantitative","scale":{"domain":[0,1024],"nice":false,"zero":false},"axis":{"title":"FSC-H","values":[100,200,300,400,500,600,700,800,900,1000],"format":"d","labelExpr":"datum.value % 200 == 0 ? datum.label : ''","tickSize":{"condition":{"test":"datum.value % 200 == 0","value":5},"value":3},"labelPadding":3,"titlePadding":8,"labelOverlap":false,"labelFlush":false}},"y":{"field":"fl1","type":"quantitative","scale":{"type":"log","domain":[1,10000],"nice":false},"axis":{"title":"FL1-H","values":[1,2,3,4,5,6,7,8,9,10,20,30,40,50,60,70,80,90,100,200,300,400,500,600,700,800,900,1000,2000,3000,4000,5000,6000,7000,8000,9000,10000],"labelExpr":"datum.value == 1 ? '10⁰' : datum.value == 10 ? '10¹' : datum.value == 100 ? '10²' : datum.value == 1000 ? '10³' : datum.value == 10000 ? '10⁴' : ''","tickSize":{"condition":{"test":"indexof([1,10,100,1000,10000], datum.value) >= 0","value":5},"value":2.5},"labelPadding":3,"titlePadding":10,"labelOverlap":false,"labelFlush":false}}},"layer":[
  {"data":{"name":"contours"},"transform":[{"filter":"datum.panel == 'r3c2' && datum.level == 1"}],"mark":{"type":"rect","clip":true,"cornerRadius":22,"fill":"#000","stroke":"#000","strokeWidth":6},"encoding":{"x2":{"field":"fsc2"},"y2":{"field":"fl1b"}}},
  {"data":{"name":"contours"},"transform":[{"filter":"datum.panel == 'r3c2'"}],"mark":{"type":"rect","clip":true,"cornerRadius":22,"strokeWidth":1.5},"encoding":{"x2":{"field":"fsc2"},"y2":{"field":"fl1b"},"fill":{"field":"level","type":"ordinal","scale":{"domain":[1,2,3,4,5],"range":["#c2c2c2","#9c9c9c","#c4c4c4","#858585","#262626"]},"legend":null},"stroke":{"field":"level","type":"ordinal","scale":{"domain":[1,2,3,4,5],"range":["transparent","#ffffff","#ffffff","#ffffff","transparent"]},"legend":null}}},
  {"data":{"name":"gates"},"transform":[{"filter":"datum.panel == 'r3c2'"}],"mark":{"type":"rule","clip":true,"color":"#3a3a3a","strokeWidth":1.2},"encoding":{"x2":{"field":"fsc2"},"y2":{"field":"fl1b"}}},
  {"data":{"name":"notes"},"transform":[{"filter":"datum.panel == 'r3c2'"}],"mark":{"type":"text","align":"left","baseline":"middle","lineBreak":"\n","lineHeight":20},"encoding":{"text":{"field":"label"},"size":{"field":"kind","type":"nominal","scale":{"domain":["note","corner"],"range":[16.5,8]},"legend":null},"color":{"field":"kind","type":"nominal","scale":{"domain":["note","corner"],"range":["#000000","#999999"]},"legend":null}}},
  {"data":{"name":"stats"},"transform":[{"filter":"datum.panel == 'r3c2'"}],"mark":{"type":"point","shape":"M-1,-0.36L1,-0.36L1,0.36L-1,0.36Z","size":4000,"filled":true,"fill":"#fff","stroke":"#000","strokeWidth":3,"opacity":1}},
  {"data":{"name":"stats"},"transform":[{"filter":"datum.panel == 'r3c2'"}],"mark":{"type":"text","fontSize":16},"encoding":{"text":{"field":"label"}}}
 ]},
 {"width":91,"height":189,"data":{"values":[]},"mark":"point"},
 {"width":203,"height":189,"view":{"stroke":"#555"},"encoding":{"x":{"field":"fsc","type":"quantitative","scale":{"domain":[0,1024],"nice":false,"zero":false},"axis":{"title":"FSC-H","values":[100,200,300,400,500,600,700,800,900,1000],"format":"d","labelExpr":"datum.value % 200 == 0 ? datum.label : ''","tickSize":{"condition":{"test":"datum.value % 200 == 0","value":5},"value":3},"labelPadding":3,"titlePadding":8,"labelOverlap":false,"labelFlush":false}},"y":{"field":"fl1","type":"quantitative","scale":{"type":"log","domain":[1,10000],"nice":false},"axis":{"title":"FL1-H","values":[1,2,3,4,5,6,7,8,9,10,20,30,40,50,60,70,80,90,100,200,300,400,500,600,700,800,900,1000,2000,3000,4000,5000,6000,7000,8000,9000,10000],"labelExpr":"datum.value == 1 ? '10⁰' : datum.value == 10 ? '10¹' : datum.value == 100 ? '10²' : datum.value == 1000 ? '10³' : datum.value == 10000 ? '10⁴' : ''","tickSize":{"condition":{"test":"indexof([1,10,100,1000,10000], datum.value) >= 0","value":5},"value":2.5},"labelPadding":3,"titlePadding":10,"labelOverlap":false,"labelFlush":false}}},"layer":[
  {"data":{"name":"contours"},"transform":[{"filter":"datum.panel == 'r3c3' && datum.level == 1"}],"mark":{"type":"rect","clip":true,"cornerRadius":22,"fill":"#000","stroke":"#000","strokeWidth":6},"encoding":{"x2":{"field":"fsc2"},"y2":{"field":"fl1b"}}},
  {"data":{"name":"contours"},"transform":[{"filter":"datum.panel == 'r3c3'"}],"mark":{"type":"rect","clip":true,"cornerRadius":22,"strokeWidth":1.5},"encoding":{"x2":{"field":"fsc2"},"y2":{"field":"fl1b"},"fill":{"field":"level","type":"ordinal","scale":{"domain":[1,2,3,4,5],"range":["#c2c2c2","#9c9c9c","#c4c4c4","#858585","#262626"]},"legend":null},"stroke":{"field":"level","type":"ordinal","scale":{"domain":[1,2,3,4,5],"range":["transparent","#ffffff","#ffffff","#ffffff","transparent"]},"legend":null}}},
  {"data":{"name":"gates"},"transform":[{"filter":"datum.panel == 'r3c3'"}],"mark":{"type":"rule","clip":true,"color":"#3a3a3a","strokeWidth":1.2},"encoding":{"x2":{"field":"fsc2"},"y2":{"field":"fl1b"}}},
  {"data":{"name":"notes"},"transform":[{"filter":"datum.panel == 'r3c3'"}],"mark":{"type":"text","align":"left","baseline":"middle","lineBreak":"\n","lineHeight":20},"encoding":{"text":{"field":"label"},"size":{"field":"kind","type":"nominal","scale":{"domain":["note","corner"],"range":[16.5,8]},"legend":null},"color":{"field":"kind","type":"nominal","scale":{"domain":["note","corner"],"range":["#000000","#999999"]},"legend":null}}},
  {"data":{"name":"stats"},"transform":[{"filter":"datum.panel == 'r3c3'"}],"mark":{"type":"point","shape":"M-1,-0.36L1,-0.36L1,0.36L-1,0.36Z","size":4000,"filled":true,"fill":"#fff","stroke":"#000","strokeWidth":3,"opacity":1}},
  {"data":{"name":"stats"},"transform":[{"filter":"datum.panel == 'r3c3'"}],"mark":{"type":"text","fontSize":16},"encoding":{"text":{"field":"label"}}}
 ]},
 {"width":80,"height":189,"data":{"values":[]},"mark":"point"},
 {"width":203,"height":189,"view":{"stroke":"#555"},"encoding":{"x":{"field":"fsc","type":"quantitative","scale":{"domain":[0,1024],"nice":false,"zero":false},"axis":{"title":"FSC-H","values":[100,200,300,400,500,600,700,800,900,1000],"format":"d","labelExpr":"datum.value % 200 == 0 ? datum.label : ''","tickSize":{"condition":{"test":"datum.value % 200 == 0","value":5},"value":3},"labelPadding":3,"titlePadding":8,"labelOverlap":false,"labelFlush":false}},"y":{"field":"fl1","type":"quantitative","scale":{"type":"log","domain":[1,10000],"nice":false},"axis":{"title":"FL1-H","values":[1,2,3,4,5,6,7,8,9,10,20,30,40,50,60,70,80,90,100,200,300,400,500,600,700,800,900,1000,2000,3000,4000,5000,6000,7000,8000,9000,10000],"labelExpr":"datum.value == 1 ? '10⁰' : datum.value == 10 ? '10¹' : datum.value == 100 ? '10²' : datum.value == 1000 ? '10³' : datum.value == 10000 ? '10⁴' : ''","tickSize":{"condition":{"test":"indexof([1,10,100,1000,10000], datum.value) >= 0","value":5},"value":2.5},"labelPadding":3,"titlePadding":10,"labelOverlap":false,"labelFlush":false}}},"layer":[
  {"data":{"name":"contours"},"transform":[{"filter":"datum.panel == 'r3c4' && datum.level == 1"}],"mark":{"type":"rect","clip":true,"cornerRadius":22,"fill":"#000","stroke":"#000","strokeWidth":6},"encoding":{"x2":{"field":"fsc2"},"y2":{"field":"fl1b"}}},
  {"data":{"name":"contours"},"transform":[{"filter":"datum.panel == 'r3c4'"}],"mark":{"type":"rect","clip":true,"cornerRadius":22,"strokeWidth":1.5},"encoding":{"x2":{"field":"fsc2"},"y2":{"field":"fl1b"},"fill":{"field":"level","type":"ordinal","scale":{"domain":[1,2,3,4,5],"range":["#c2c2c2","#9c9c9c","#c4c4c4","#858585","#262626"]},"legend":null},"stroke":{"field":"level","type":"ordinal","scale":{"domain":[1,2,3,4,5],"range":["transparent","#ffffff","#ffffff","#ffffff","transparent"]},"legend":null}}},
  {"data":{"name":"gates"},"transform":[{"filter":"datum.panel == 'r3c4'"}],"mark":{"type":"rule","clip":true,"color":"#3a3a3a","strokeWidth":1.2},"encoding":{"x2":{"field":"fsc2"},"y2":{"field":"fl1b"}}},
  {"data":{"name":"notes"},"transform":[{"filter":"datum.panel == 'r3c4'"}],"mark":{"type":"text","align":"left","baseline":"middle","lineBreak":"\n","lineHeight":20},"encoding":{"text":{"field":"label"},"size":{"field":"kind","type":"nominal","scale":{"domain":["note","corner"],"range":[16.5,8]},"legend":null},"color":{"field":"kind","type":"nominal","scale":{"domain":["note","corner"],"range":["#000000","#999999"]},"legend":null}}},
  {"data":{"name":"stats"},"transform":[{"filter":"datum.panel == 'r3c4'"}],"mark":{"type":"point","shape":"M-1,-0.36L1,-0.36L1,0.36L-1,0.36Z","size":4000,"filled":true,"fill":"#fff","stroke":"#000","strokeWidth":3,"opacity":1}},
  {"data":{"name":"stats"},"transform":[{"filter":"datum.panel == 'r3c4'"}],"mark":{"type":"text","fontSize":16},"encoding":{"text":{"field":"label"}}}
 ]}
]}
],
"config":{
 "font":"Liberation Sans",
 "view":{"stroke":null},
 "axis":{"grid":false,"labelFont":"Liberation Sans","titleFont":"Liberation Sans","labelFontSize":15,"titleFontSize":15,"titleFontWeight":"normal","labelColor":"#000","titleColor":"#000","tickColor":"#444","domainColor":"#555"},
 "title":{"font":"Liberation Sans","fontSize":18.5,"fontWeight":"bold","color":"#000","frame":"group","anchor":"middle"},
 "text":{"font":"Liberation Sans","color":"#000"}
}
}
